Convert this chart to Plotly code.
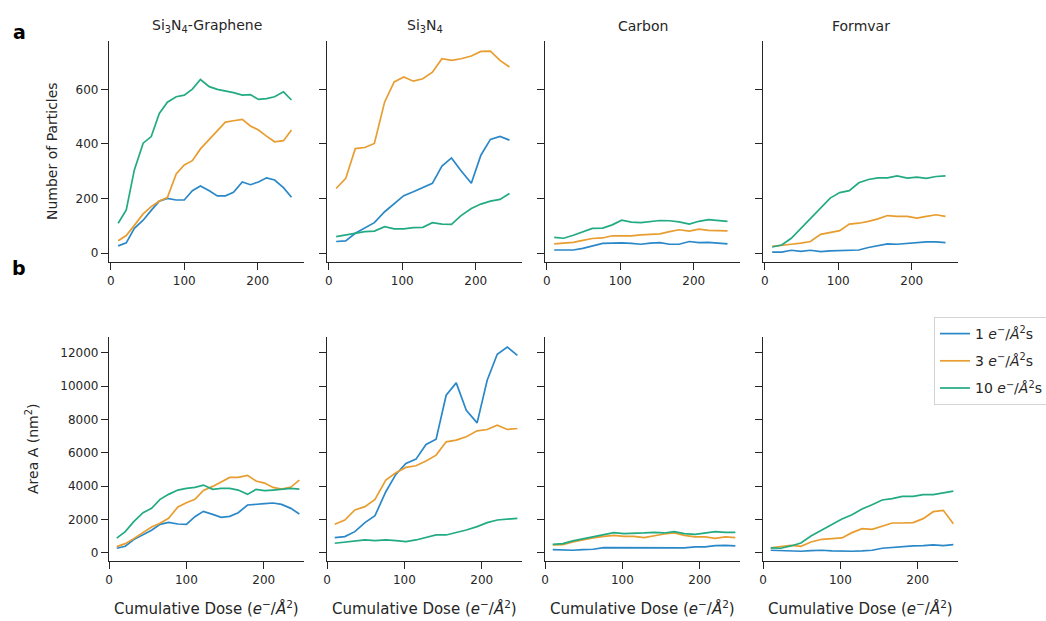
import plotly.graph_objects as go

# ---------------- data ----------------
PANEL_TITLES = ["Si<sub>3</sub>N<sub>4</sub>-Graphene", "Si<sub>3</sub>N<sub>4</sub>", "Carbon", "Formvar"]
SERIES_NAMES = ["1 <i>e</i><sup>−</sup>/<i>Å</i><sup>2</sup>s",
                "3 <i>e</i><sup>−</sup>/<i>Å</i><sup>2</sup>s",
                "10 <i>e</i><sup>−</sup>/<i>Å</i><sup>2</sup>s"]
COLORS = ["#2a88c8", "#e89d30", "#22ab82"]

X_GRAPHENE = [10, 21, 32, 44, 55, 66, 77, 89, 100, 111, 122, 134, 145, 156, 167, 179, 190, 201, 212, 223, 235, 246]
X_OTHER = [10, 23, 36, 49, 62, 76, 89, 102, 115, 128, 141, 154, 167, 180, 194, 207, 220, 233, 246]

# Number of particles
GR_P_1 = [27, 38, 91, 121, 157, 191, 201, 195, 195, 229, 246, 229, 210, 210, 223, 261, 251, 261, 276, 268, 240, 205]
GR_P_3 = [46, 65, 102, 144, 171, 191, 204, 290, 323, 339, 382, 418, 448, 480, 485, 490, 466, 451, 429, 408, 412, 451]
GR_P_10 = [110, 159, 305, 403, 427, 512, 553, 573, 579, 601, 636, 610, 600, 595, 588, 579, 581, 563, 566, 573, 591, 561]
SI_P_1 = [43, 45, 73, 94, 112, 152, 183, 211, 225, 241, 256, 319, 349, 302, 256, 359, 417, 428, 414]
SI_P_3 = [237, 274, 383, 387, 402, 554, 627, 645, 630, 639, 663, 712, 706, 712, 722, 739, 740, 706, 682]
SI_P_10 = [61, 67, 75, 79, 81, 97, 89, 89, 94, 95, 112, 107, 106, 138, 164, 180, 191, 197, 219]
C_P_1 = [12, 11, 12, 18, 27, 36, 37, 38, 36, 33, 37, 39, 33, 33, 43, 39, 40, 38, 34]
C_P_3 = [34, 37, 40, 47, 54, 56, 64, 64, 64, 67, 70, 71, 79, 86, 81, 88, 84, 83, 82]
C_P_10 = [58, 55, 66, 79, 91, 92, 104, 121, 114, 112, 116, 120, 119, 115, 107, 117, 123, 119, 117]
F_P_1 = [4, 4, 11, 7, 11, 6, 9, 10, 10, 12, 21, 28, 34, 33, 37, 40, 42, 42, 39]
F_P_3 = [25, 28, 33, 37, 43, 69, 76, 83, 107, 110, 117, 126, 138, 135, 135, 129, 135, 141, 135]
F_P_10 = [23, 30, 55, 92, 125, 168, 202, 222, 229, 258, 270, 276, 276, 283, 275, 279, 274, 281, 283]

# Area A (nm^2)
GR_A_1 = [260, 380, 780, 1080, 1340, 1700, 1820, 1720, 1700, 2160, 2480, 2300, 2120, 2180, 2400, 2860, 2920, 2940, 2980, 2900, 2660, 2320]
GR_A_3 = [360, 540, 840, 1200, 1540, 1760, 2060, 2740, 3000, 3200, 3740, 3980, 4260, 4520, 4520, 4640, 4300, 4180, 3920, 3820, 3940, 4360]
GR_A_10 = [870, 1260, 1860, 2400, 2660, 3200, 3500, 3760, 3860, 3920, 4060, 3800, 3860, 3860, 3760, 3500, 3800, 3720, 3760, 3800, 3860, 3820]
SI_A_1 = [900, 960, 1260, 1800, 2220, 3660, 4700, 5360, 5620, 6500, 6820, 9460, 10200, 8560, 7800, 10360, 11920, 12360, 11860]
SI_A_3 = [1700, 1960, 2560, 2760, 3200, 4360, 4800, 5120, 5220, 5500, 5860, 6660, 6760, 6960, 7320, 7400, 7660, 7400, 7460]
SI_A_10 = [560, 640, 700, 760, 720, 760, 720, 660, 760, 920, 1060, 1060, 1200, 1360, 1560, 1800, 1960, 2000, 2060]
C_A_1 = [180, 140, 140, 180, 200, 300, 300, 300, 300, 300, 280, 260, 260, 280, 340, 340, 420, 440, 400]
C_A_3 = [460, 480, 640, 780, 880, 980, 1040, 980, 980, 900, 1020, 1120, 1180, 1040, 940, 940, 860, 940, 900]
C_A_10 = [500, 540, 700, 820, 920, 1040, 1200, 1140, 1140, 1180, 1220, 1180, 1260, 1140, 1100, 1180, 1260, 1220, 1220]
F_A_1 = [140, 120, 100, 80, 120, 140, 100, 80, 80, 100, 140, 260, 320, 360, 400, 420, 460, 420, 480]
F_A_3 = [280, 380, 440, 380, 640, 800, 840, 880, 1200, 1440, 1400, 1580, 1780, 1780, 1800, 2040, 2460, 2540, 1740]
F_A_10 = [280, 260, 400, 580, 1000, 1340, 1660, 2020, 2280, 2620, 2880, 3160, 3240, 3380, 3380, 3480, 3480, 3580, 3700]

X_TICKS = [0, 100, 200]
Y_TICKS_TOP = [0, 200, 400, 600]
Y_TICKS_BOTTOM = [0, 2000, 4000, 6000, 8000, 10000, 12000]

PANEL_X = [X_GRAPHENE, X_OTHER, X_OTHER, X_OTHER]
TOP_DATA = [[GR_P_1, GR_P_3, GR_P_10], [SI_P_1, SI_P_3, SI_P_10],
            [C_P_1, C_P_3, C_P_10], [F_P_1, F_P_3, F_P_10]]
BOTTOM_DATA = [[GR_A_1, GR_A_3, GR_A_10], [SI_A_1, SI_A_3, SI_A_10],
               [C_A_1, C_A_3, C_A_10], [F_A_1, F_A_3, F_A_10]]

# ---------------- layout geometry (pixels) ----------------
W, H = 1046, 621
COL_LEFT = [109, 327, 545, 763]
COL_W = 195
TOP_ROW = (41, 262)
BOT_ROW = (337, 561)
FONT = "DejaVu Sans, Verdana, sans-serif"
TXT = "#262626"

def px(xp):
    return xp / W

def py(yp):
    return 1 - yp / H

fig = go.Figure()
layout = dict(
    width=W, height=H,
    margin=dict(l=0, r=0, t=0, b=0, autoexpand=False),
    paper_bgcolor="white", plot_bgcolor="white",
    font=dict(family=FONT, color=TXT, size=12),
    showlegend=True,
    legend=dict(x=px(934), y=py(317), xanchor="left", yanchor="top",
                bgcolor="white", bordercolor="#d4d4d4", borderwidth=1,
                font=dict(size=14, family=FONT, color=TXT),
                tracegroupgap=6, traceorder="grouped"),
)

annotations = []
for row in range(2):
    for col in range(4):
        k = row * 4 + col + 1
        xa = "x" if k == 1 else f"x{k}"
        ya = "y" if k == 1 else f"y{k}"
        data = TOP_DATA[col] if row == 0 else BOTTOM_DATA[col]
        for s in range(3):
            fig.add_trace(go.Scatter(
                x=PANEL_X[col], y=data[s], mode="lines",
                line=dict(color=COLORS[s], width=1.7),
                name=SERIES_NAMES[s], legendgroup=f"g{s}",
                showlegend=(k == 5), xaxis=xa, yaxis=ya))
        yr = TOP_ROW if row == 0 else BOT_ROW
        axcommon = dict(showline=True, linecolor="#262626", linewidth=1.3,
                        ticks="outside", ticklen=7, tickwidth=1.3, tickcolor="#262626",
                        showgrid=False, zeroline=False, tickformat="d",
                        tickfont=dict(size=12, family=FONT, color=TXT))
        layout["xaxis" if k == 1 else f"xaxis{k}"] = dict(
            domain=[px(COL_LEFT[col]), px(COL_LEFT[col] + COL_W)],
            anchor=ya, range=[-2.5, 263] if row == 0 else [0, 252],
            tickvals=X_TICKS, **axcommon)
        layout["yaxis" if k == 1 else f"yaxis{k}"] = dict(
            domain=[py(yr[1]), py(yr[0])], anchor=xa,
            range=[-32, 777] if row == 0 else [-505, 12960],
            tickvals=Y_TICKS_TOP if row == 0 else Y_TICKS_BOTTOM,
            showticklabels=(col == 0), **axcommon)
        if row == 0:
            annotations.append(dict(text=PANEL_TITLES[col], xref="paper", yref="paper",
                                    x=px(COL_LEFT[col] + COL_W / 2), y=py(26),
                                    xanchor="center", yanchor="middle", showarrow=False,
                                    font=dict(size=14, family=FONT, color=TXT)))
        else:
            annotations.append(dict(text="Cumulative Dose (<i>e</i><sup>−</sup>/<i>Å</i><sup>2</sup>)",
                                    xref="paper", yref="paper",
                                    x=px(COL_LEFT[col] + COL_W / 2), y=py(608),
                                    xanchor="center", yanchor="middle", showarrow=False,
                                    font=dict(size=15, family=FONT, color=TXT)))

annotations += [
    dict(text="Number of Particles", xref="paper", yref="paper", x=px(52), y=py(151),
         xanchor="center", yanchor="middle", textangle=-90, showarrow=False,
         font=dict(size=14, family=FONT, color=TXT)),
    dict(text="Area A (nm<sup>2</sup>)", xref="paper", yref="paper", x=px(32), y=py(449),
         xanchor="center", yanchor="middle", textangle=-90, showarrow=False,
         font=dict(size=14, family=FONT, color=TXT)),
    dict(text="<b>a</b>", xref="paper", yref="paper", x=px(19), y=py(32),
         xanchor="center", yanchor="middle", showarrow=False,
         font=dict(size=19, family=FONT, color="black")),
    dict(text="<b>b</b>", xref="paper", yref="paper", x=px(19), y=py(268),
         xanchor="center", yanchor="middle", showarrow=False,
         font=dict(size=19, family=FONT, color="black")),
]
layout["annotations"] = annotations
fig.update_layout(**layout)
fig.write_html("out.html")
